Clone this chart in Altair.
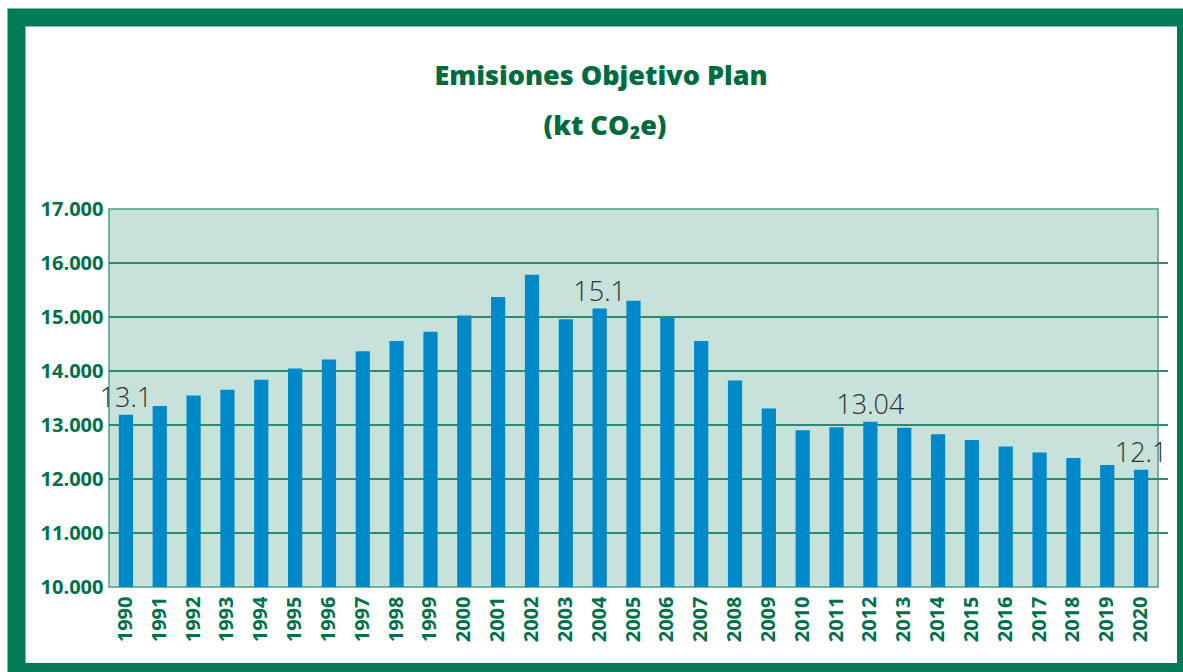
import altair as alt
import pandas as pd

years = ["1990", "1991", "1992", "1993", "1994", "1995", "1996", "1997", "1998", "1999",
         "2000", "2001", "2002", "2003", "2004", "2005", "2006", "2007", "2008", "2009",
         "2010", "2011", "2012", "2013", "2014", "2015", "2016", "2017", "2018", "2019", "2020"]
emissions = [13190, 13350, 13545, 13655, 13836, 14044, 14215, 14367, 14557, 14728,
             15030, 15372, 15783, 14960, 15156, 15300, 14980, 14557, 13826, 13305,
             12903, 12960, 13060, 12950, 12830, 12720, 12600, 12490, 12390, 12260, 12170]

label_years = ["1990", "2004", "2012", "2020"]
label_texts = ["13.1", "15.1", "13.04", "12.1"]

grid_values = [11000, 12000, 13000, 14000, 15000, 16000]
y_ticks = [10000, 11000, 12000, 13000, 14000, 15000, 16000, 17000]

title_lines = ["Emisiones Objetivo Plan", "(kt CO₂e)"]

df = pd.DataFrame({"year": years, "value": emissions})
lookup = dict(zip(years, emissions))
df_lab = pd.DataFrame({"year": label_years, "label": label_texts,
                       "value": [lookup[y] for y in label_years]})
df_grid = pd.DataFrame({"g": grid_values})
df_one = pd.DataFrame({"k": [0]})

GREEN_TXT = "#00704A"
GRID = "#2E8A6C"
BLUE = "#0089C9"

W, H = 1049, 378

x_enc = alt.X("year:N", sort=years, title=None,
              scale=alt.Scale(paddingInner=0.58, paddingOuter=0.29),
              axis=alt.Axis(labelAngle=-90, ticks=False, domain=False, grid=False,
                            labelFont="Open Sans", labelFontWeight="bold", labelFontSize=20,
                            labelColor=GREEN_TXT, labelPadding=9))
y_scale = alt.Scale(domain=[10000, 17000], nice=False)
y_enc = alt.Y("value:Q", scale=y_scale, title=None,
              axis=alt.Axis(values=y_ticks, ticks=False, domain=False, grid=False,
                            labelExpr="replace(format(datum.value, ','), ',', '.')",
                            labelFont="Open Sans", labelFontWeight="bold", labelFontSize=20,
                            labelColor=GREEN_TXT, labelPadding=6))

frame = alt.Chart(df_one).mark_rect(fill=None, stroke="#007A57", strokeWidth=18).encode(
    x=alt.value(-92.5), x2=alt.value(1077), y=alt.value(-191.5), y2=alt.value(463)
)

title1 = alt.Chart(df_one).mark_text(
    text=title_lines[0], font="Open Sans", fontWeight=800, fontSize=27, color="#006B3F",
    align="center", baseline="alphabetic"
).encode(x=alt.value(492), y=alt.value(-124))

title2 = alt.Chart(df_one).mark_text(
    text=title_lines[1], font="Open Sans", fontWeight=800, fontSize=27, color="#006B3F",
    align="center", baseline="alphabetic"
).encode(x=alt.value(496), y=alt.value(-74))

grid = alt.Chart(df_grid).mark_rule(color=GRID, strokeWidth=2).encode(
    y=alt.Y("g:Q", scale=y_scale), x=alt.value(0), x2=alt.value(W + 10)
)

bars = alt.Chart(df).mark_bar(color=BLUE).encode(x=x_enc, y=y_enc, y2=alt.datum(10000))

labels = alt.Chart(df_lab).mark_text(
    baseline="alphabetic", dy=-8, font="Open Sans", fontSize=27, fontWeight=300, color="#333333"
).encode(x=alt.X("year:N", sort=years), y=alt.Y("value:Q", scale=y_scale), text="label:N")

chart = alt.layer(frame, title1, title2, grid, bars, labels).properties(
    width=W, height=H,
    autosize="none",
    padding={"left": 109, "top": 209, "right": 25, "bottom": 85},
    background="white",
).configure_view(
    fill="#C6E2DA", stroke="#4C9F82", strokeWidth=1.5
)

chart.save("out.html", embed_options={"renderer": "svg", "actions": False})
